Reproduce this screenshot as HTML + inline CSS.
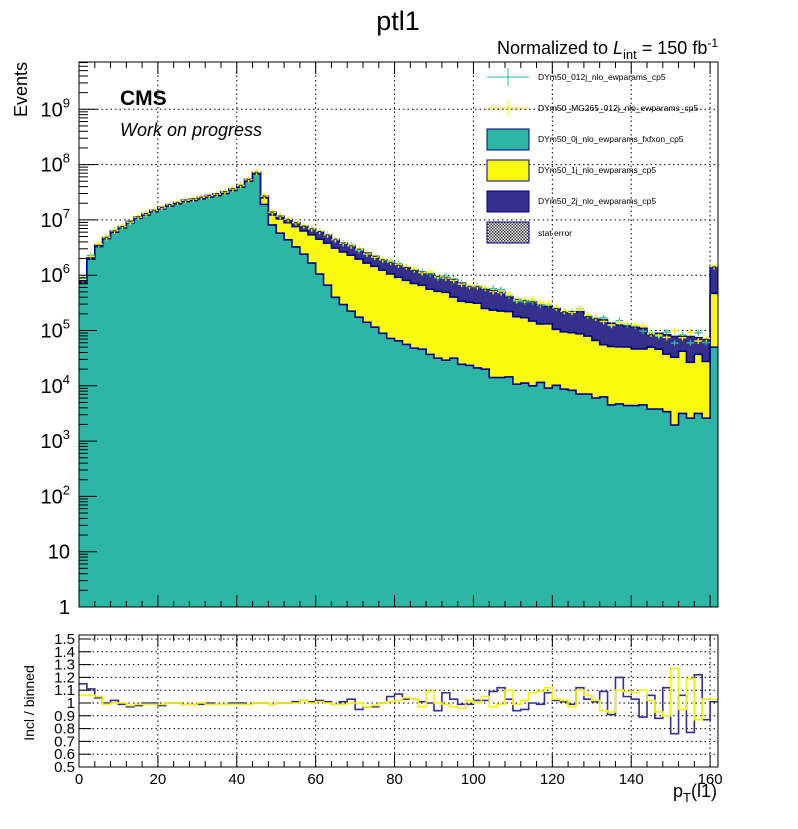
<!DOCTYPE html>
<html><head><meta charset="utf-8"><title>ptl1</title>
<style>
html,body{margin:0;padding:0;background:#fff;}
svg{display:block;font-family:"Liberation Sans",sans-serif;}
</style></head>
<body>
<svg id="chart" width="798" height="829" viewBox="0 0 798 829" xmlns="http://www.w3.org/2000/svg">
<defs>
<pattern id="hatch" width="3" height="3" patternUnits="userSpaceOnUse">
<rect width="3" height="3" fill="#fff"/><rect width="1.5" height="1.5" fill="#333"/><rect x="1.5" y="1.5" width="1.5" height="1.5" fill="#333"/>
</pattern>
</defs>
<rect x="0" y="0" width="798" height="829" fill="#fff"/>
<g id="grid"></g>
<g id="stack"></g>
<g id="markers"></g>
<g id="ratio"></g>
<g id="axes"></g>

<text x="398" y="30" font-size="27" text-anchor="middle">ptl1</text>
<text x="718" y="54" font-size="18" text-anchor="end">Normalized to <tspan font-style="italic">L</tspan><tspan font-size="13" dy="5">int</tspan><tspan dy="-5"> = 150 fb</tspan><tspan font-size="12" dy="-7">-1</tspan></text>
<text transform="translate(27,62) rotate(-90)" font-size="18" text-anchor="end">Events</text>
<text x="120" y="105" font-size="21" font-weight="bold">CMS</text>
<text x="120" y="136" font-size="18" font-style="italic">Work on progress</text>
<text transform="translate(34,703) rotate(-90)" font-size="14" text-anchor="middle">Incl / binned</text>
<text x="717" y="797" font-size="18" text-anchor="end">p<tspan font-size="13" dy="5">T</tspan><tspan dy="-5">(l1)</tspan></text>

<g font-size="8.5">
<g>
<line x1="487" y1="77" x2="529" y2="77" stroke="#2db6a4" stroke-width="1"/><line x1="508" y1="68" x2="508" y2="86" stroke="#2db6a4" stroke-width="1"/>
<text x="538" y="80">DYm50_012j_nlo_ewparams_cp5</text></g>
<g>
<line x1="487" y1="108" x2="529" y2="108" stroke="#f5f500" stroke-width="1"/><line x1="508" y1="99" x2="508" y2="117" stroke="#f5f500" stroke-width="1"/>
<text x="538" y="111">DYm50_MG265_012j_nlo_ewparams_cp5</text></g>
<g>
<rect x="487" y="129" width="42" height="21" fill="#2db6a4" stroke="#000080" stroke-width="1"/><text x="538" y="142">DYm50_0j_nlo_ewparams_fxfxon_cp5</text></g>
<g>
<rect x="487" y="160" width="42" height="21" fill="#f9f90e" stroke="#000080" stroke-width="1"/><text x="538" y="173">DYm50_1j_nlo_ewparams_cp5</text></g>
<g>
<rect x="487" y="191" width="42" height="21" fill="#34308b" stroke="#000080" stroke-width="1"/><text x="538" y="204">DYm50_2j_nlo_ewparams_cp5</text></g>
<g>
<rect x="487" y="222" width="42" height="21" fill="url(#hatch)" stroke="#000080" stroke-width="1"/><text x="538" y="236">stat error</text></g>
</g>
</svg>
<script>
// ---- data (2 GeV bins, 0-162) ----
const binEdgesStart = 0;
const binWidth = 2;
const zeroJet = [7.2e5,1.95e6,3.3e6,4.6e6,6.0e6,7.2e6,8.9e6,1.07e7,1.23e7,1.41e7,1.58e7,1.78e7,1.95e7,2.14e7,2.24e7,2.4e7,2.57e7,2.75e7,3.0e7,3.4e7,3.9e7,5.0e7,6.8e7,1.9e7,
8.1e6,5.75e6,4.37e6,3.24e6,2.4e6,1.66e6,1.05e6,6.6e5,3.98e5,2.95e5,2.24e5,1.74e5,1.41e5,1.15e5,8.9e4,7.2e4,6.5e4,5.6e4,4.8e4,4.6e4,3.7e4,3.16e4,2.9e4,3.16e4,2.45e4,2.34e4,2.1e4,2.0e4,1.41e4,1.41e4,1.45e4,1.07e4,1.12e4,1.0e4,1.15e4,9.1e3,1.02e4,8.7e3,8.3e3,7.1e3,7.1e3,6.0e3,6.3e3,4.5e3,4.7e3,4.4e3,4.4e3,4.5e3,3.8e3,3.8e3,3.4e3,1.95e3,3.16e3,2.6e3,3.16e3,2.6e3,5.0e4];
const oneJet = [3.0e4,8e4,1.4e5,2.0e5,2.6e5,3.2e5,4.0e5,5.0e5,6.0e5,7.0e5,8.0e5,9.5e5,1.1e6,1.2e6,1.3e6,1.45e6,1.6e6,1.75e6,1.95e6,2.2e6,2.6e6,3.2e6,3.8e6,6.1e6,
4.2e6,4.7e6,4.54e6,4.35e6,3.91e6,3.71e6,3.42e6,3.14e6,2.69e6,2.34e6,2.07e6,1.78e6,1.52e6,1.33e6,1.14e6,9.8e5,8.5e5,7.5e5,6.6e5,6.1e5,5.2e5,4.8e5,4.6e5,3.7e5,3.15e5,3.0e5,2.9e5,2.3e5,2.2e5,2.1e5,2.05e5,1.67e5,1.59e5,1.38e5,1.2e5,1.23e5,9.5e4,8.6e4,8.3e4,8.0e4,7.2e4,6.0e4,4.9e4,4.7e4,4.6e4,4.6e4,4.2e4,4.2e4,4.6e4,4.2e4,3.4e4,3.1e4,3.9e4,2.4e4,3.4e4,2.5e4,4.2e5];
const twoJet = [8e3,2e4,3.5e4,5e4,6.5e4,8e4,1.0e5,1.2e5,1.4e5,1.6e5,1.8e5,2.1e5,2.4e5,2.6e5,2.8e5,3.1e5,3.4e5,3.7e5,4.1e5,4.7e5,5.5e5,7.0e5,9.5e5,1.8e6,
1.5e6,1.28e6,1.32e6,1.32e6,1.45e6,1.55e6,1.7e6,1.57e6,1.38e6,1.17e6,1.1e6,1.0e6,8.5e5,7.4e5,6.8e5,6.5e5,6.0e5,5.7e5,5.2e5,4.9e5,4.9e5,4.4e5,4.0e5,4.3e5,3.8e5,3.06e5,3.1e5,3.1e5,2.9e5,2.66e5,1.88e5,1.85e5,1.77e5,1.83e5,1.56e5,1.37e5,1.46e5,1.24e5,1.28e5,1.32e5,9.9e4,1.0e5,1.0e5,8.4e4,7.5e4,7.0e4,6.9e4,6.3e4,3.5e4,4.3e4,4.6e4,4.5e4,3.6e4,5.1e4,3.7e4,4.2e4,9.4e5];
const ratioIncl = [1.15,1.11,1.04,1.0,1.02,0.99,0.97,0.98,1.0,1.0,0.98,1.0,1.0,0.99,0.99,0.99,1.0,0.99,0.99,1.0,1.0,0.99,1.0,1.0,0.99,1.0,1.0,1.01,1.02,1.01,1.02,1.01,0.99,1.01,1.03,0.95,0.97,0.97,1.0,1.05,1.07,1.03,1.03,1.01,1.0,0.94,1.08,1.03,0.99,0.99,1.02,1.02,1.09,1.12,1.03,0.94,0.95,1.0,0.99,1.08,1.02,1.01,0.99,1.12,1.03,1.01,1.09,0.91,1.2,1.05,1.03,0.89,1.06,0.88,1.12,0.76,1.06,0.77,1.22,0.87,1.01];
const ratioMG = [1.06,1.06,1.05,0.99,1.0,1.0,0.98,0.99,0.99,0.99,0.99,1.0,1.0,0.99,0.99,1.0,0.99,0.99,0.99,0.99,0.99,0.99,1.0,1.0,0.99,1.0,1.0,1.0,1.02,1.0,1.01,1.0,0.99,0.99,1.0,1.0,0.97,0.98,1.0,1.01,1.02,1.04,1.03,0.97,1.09,1.0,0.99,0.97,0.96,1.02,1.0,1.05,0.97,0.99,1.1,0.99,1.02,1.08,1.09,1.12,1.03,1.02,0.97,1.1,1.06,1.02,0.94,0.93,1.1,1.09,1.08,1.1,1.02,0.93,0.9,1.27,0.95,1.19,0.87,1.03,1.03];
const xTickLabels = ["0","20","40","60","80","100","120","140","160"];
const yTickExps = [0,1,2,3,4,5,6,7,8,9];
const ratioTickLabels = ["0.5","0.6","0.7","0.8","0.9","1","1.1","1.2","1.3","1.4","1.5"];

// ---- geometry ----
const X0=79, X1=718, XMAX=162;
const Y0=607, DEC=55.3, YTOP=62;
const RY0=767, RSC=128, RTOP=635;
const NS='http://www.w3.org/2000/svg';
const xs = v => X0 + (X1-X0)*v/XMAX;
const ys = v => Math.max(YTOP, Y0 - DEC*Math.log10(Math.max(v,1)));
const ry = r => Math.max(RTOP, Math.min(RY0, RY0 - (r-0.5)*RSC));
function mk(tag, attrs, parent){const e=document.createElementNS(NS,tag);for(const k in attrs)e.setAttribute(k,attrs[k]);parent.appendChild(e);return e;}

const grid=document.getElementById('grid'), stack=document.getElementById('stack'), markers=document.getElementById('markers'), ratio=document.getElementById('ratio'), axes=document.getElementById('axes');
const n = zeroJet.length;
const cum0 = zeroJet.slice();
const cum1 = zeroJet.map((v,i)=>v+oneJet[i]);
const cum2 = cum1.map((v,i)=>v+twoJet[i]);

// grid
xTickLabels.forEach(t=>{const x=xs(+t); if(+t>0){
 const l=mk('line',{x1:x,y1:YTOP,x2:x,y2:Y0,stroke:'#000','stroke-width':1,'stroke-dasharray':'1.5,3'},grid);
  
 const l2=mk('line',{x1:x,y1:RTOP,x2:x,y2:RY0,stroke:'#000','stroke-width':1,'stroke-dasharray':'1.5,3'},grid);
  }});
yTickExps.forEach(e=>{ if(e>0){const y=ys(Math.pow(10,e));
 const l=mk('line',{x1:X0,y1:y,x2:X1,y2:y,stroke:'#000','stroke-width':1,'stroke-dasharray':'1.5,3'},grid);
  }});
ratioTickLabels.forEach(t=>{const r=+t; if(r>0.5){const y=ry(r);
 const l=mk('line',{x1:X0,y1:y,x2:X1,y2:y,stroke:'#000','stroke-width':1,'stroke-dasharray':'1.5,3'},grid);
  }});

// stacked areas
function areaPath(arr){let d=`M${xs(0)},${Y0}`;for(let i=0;i<n;i++){const a=xs(i*binWidth),b=xs((i+1)*binWidth),y=ys(arr[i]);d+=` L${a},${y} L${b},${y}`;}d+=` L${xs(n*binWidth)},${Y0} Z`;return d;}
function topPath(arr){let d='';for(let i=0;i<n;i++){const a=xs(i*binWidth),b=xs((i+1)*binWidth),y=ys(arr[i]);d+=(i?' L':'M')+`${a},${y} L${b},${y}`;}return d;}
const layers=[[cum2,'#34308b','stack-2j'],[cum1,'#f9f90e','stack-1j'],[cum0,'#2db6a4','stack-0j']];
layers.forEach(([arr,col,name])=>{
 const p=mk('path',{d:areaPath(arr),fill:col,stroke:'none'},stack);
  
 const t=mk('path',{d:topPath(arr),fill:'none',stroke:'#000088','stroke-width':1.6},stack);
  
});

// markers: inclusive samples = ratio * stack
for(let i=0;i<n;i++){
 const a=xs(i*binWidth),b=xs((i+1)*binWidth),c=(a+b)/2;
 [[ratioIncl,'#2db6a4','incl-marker'],[ratioMG,'#f5f500','mg265-marker']].forEach(([r,col,name])=>{
  const v=r[i]*cum2[i], y=ys(v);
  const g=mk('g',{},markers);
   
  mk('line',{x1:a,y1:y,x2:b,y2:y,stroke:col,'stroke-width':1.4},g);
  mk('line',{x1:c,y1:y-3,x2:c,y2:y+3,stroke:col,'stroke-width':1.2},g);
 });
 const yt=ys(cum2[i]);
 const s=mk('line',{x1:a+2,y1:yt,x2:b-2,y2:yt,stroke:'#222','stroke-width':1},markers);
  
}

// ratio lines
[[ratioIncl,'#34318e','ratio-incl-line'],[ratioMG,'#f5f500','ratio-mg265-line']].forEach(([r,col,name])=>{
 let d='';for(let i=0;i<n;i++){const a=xs(i*binWidth),b=xs((i+1)*binWidth),y=ry(r[i]);d+=(i?' L':'M')+`${a},${y} L${b},${y}`;}
 const p=mk('path',{d:d,fill:'none',stroke:col,'stroke-width':1.6},ratio);
  
});

// frames
[[YTOP,Y0,'main-frame'],[RTOP,RY0,'ratio-frame']].forEach(([t,b,name])=>{
 const r=mk('rect',{x:X0,y:t,width:X1-X0,height:b-t,fill:'none',stroke:'#000','stroke-width':1},axes);
  
});
// x ticks
for(let v=0;v<=XMAX;v+=4){const x=xs(v),major=v%20===0,len=major?12:6;
 [[Y0,YTOP],[RY0,RTOP]].forEach(([b,t])=>{
  const l=mk('line',{x1:x,y1:b,x2:x,y2:b-len,stroke:'#000','stroke-width':1},axes);
   
  const l2=mk('line',{x1:x,y1:t,x2:x,y2:t+len,stroke:'#000','stroke-width':1},axes);
   });}
xTickLabels.forEach(t=>{const tx=mk('text',{x:xs(+t),y:784,'font-size':15,'text-anchor':'middle'},axes);tx.textContent=t;
  });
// y log ticks
for(let e=0;e<10;e++){for(let m=1;m<10;m++){const v=m*Math.pow(10,e),y=Y0-DEC*Math.log10(v);if(y<YTOP)continue;
 const l=mk('line',{x1:X0,y1:y,x2:X0+(m===1?18:9),y2:y,stroke:'#000','stroke-width':1},axes);
  }}
yTickExps.forEach(e=>{const y=Y0-DEC*e;const tx=mk('text',{x:70,y:y+7,'font-size':20,'text-anchor':'end'},axes);
 if(e===0)tx.textContent='1';else if(e===1)tx.textContent='10';else{tx.textContent='10';const s=mk('tspan',{'font-size':13,dy:-9},tx);s.textContent=String(e);}
  });
// ratio y ticks
ratioTickLabels.forEach(t=>{const y=ry(+t);
 const l=mk('line',{x1:X0,y1:y,x2:X0+12,y2:y,stroke:'#000','stroke-width':1},axes);
  
 const tx=mk('text',{x:75,y:y+5,'font-size':15,'text-anchor':'end'},axes);tx.textContent=t;
  });
</script>
</body></html>
